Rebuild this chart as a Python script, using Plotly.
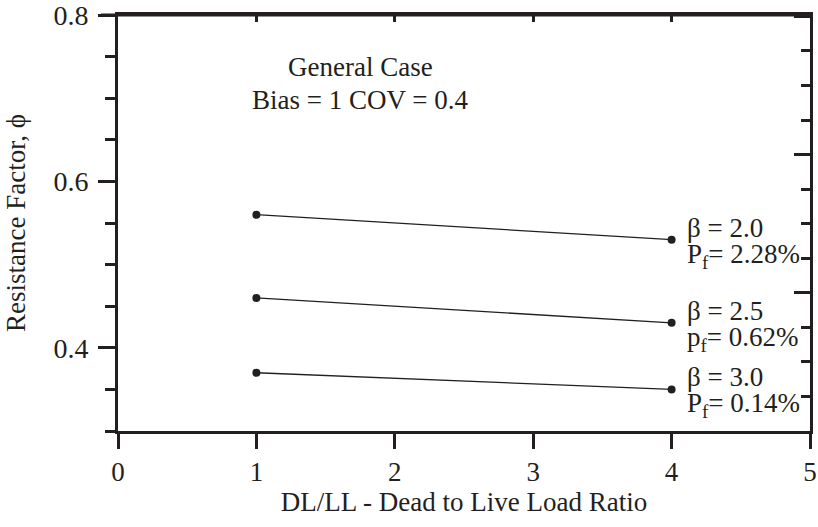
import plotly.graph_objects as go

x_ratio = [1, 4]
phi_b20 = [0.56, 0.53]
phi_b25 = [0.46, 0.43]
phi_b30 = [0.37, 0.35]
series = [
    ("β = 2.0", "P<sub>f</sub>= 2.28%", phi_b20),
    ("β = 2.5", "p<sub>f</sub>= 0.62%", phi_b25),
    ("β = 3.0", "P<sub>f</sub>= 0.14%", phi_b30),
]
x_ticks = [0, 1, 2, 3, 4, 5]
y_ticks = [0.4, 0.6, 0.8]
y_tick_labels = ["0.4", "0.6", "0.8"]
title_lines = ["General Case", "Bias = 1 COV = 0.4"]

FONT = "Liberation Serif"
INK = "#231f20"
FS = 27

fig = go.Figure()
for name, pf, vals in series:
    fig.add_trace(go.Scatter(
        x=x_ratio, y=vals, mode="lines+markers",
        line=dict(color=INK, width=1.3),
        marker=dict(color=INK, size=8),
        showlegend=False, name=name,
    ))
    fig.add_annotation(
        x=x_ratio[-1], y=vals[-1], xref="x", yref="y",
        text=name, showarrow=False,
        xanchor="left", yanchor="middle", xshift=13, yshift=12,
        align="left", font=dict(family=FONT, size=FS, color=INK),
    )
    fig.add_annotation(
        x=x_ratio[-1], y=vals[-1], xref="x", yref="y",
        text=pf, showarrow=False,
        xanchor="left", yanchor="middle", xshift=13, yshift=-16,
        align="left", font=dict(family=FONT, size=FS, color=INK),
    )

for i, line in enumerate(title_lines):
    fig.add_annotation(
        x=1.75, y=0.8, xref="x", yref="y",
        text=line, showarrow=False,
        xanchor="center", yanchor="middle", align="center",
        yshift=-52 - 33 * i,
        font=dict(family=FONT, size=FS, color=INK),
    )

# frame: top border and the top-left major tick
fig.add_shape(type="line", xref="paper", yref="paper",
              x0=0, x1=1, y0=1, y1=1,
              line=dict(color=INK, width=3), layer="above")
fig.add_shape(type="line", xref="paper", yref="paper",
              xsizemode="pixel", xanchor=0, x0=-17, x1=0, y0=1, y1=1,
              line=dict(color=INK, width=3), layer="above")

# dummy traces to activate the mirror axes
fig.add_trace(go.Scatter(x=[None], y=[None], xaxis="x2", yaxis="y", showlegend=False, hoverinfo="skip"))
fig.add_trace(go.Scatter(x=[None], y=[None], xaxis="x", yaxis="y2", showlegend=False, hoverinfo="skip"))

fig.update_layout(
    width=818, height=527,
    margin=dict(l=118, r=8, t=15, b=96),
    paper_bgcolor="white", plot_bgcolor="white",
    font=dict(family=FONT, size=FS, color=INK),
    xaxis=dict(
        range=[0, 5], tickvals=x_ticks, ticktext=[str(v) for v in x_ticks],
        ticks="outside", ticklen=15, tickwidth=3, tickcolor=INK,
        showline=True, linewidth=3, linecolor=INK,
        showgrid=False, zeroline=False, automargin=False,
        ticklabelstandoff=0,
        title=dict(text="DL/LL - Dead to Live Load Ratio", standoff=5,
                   font=dict(family=FONT, size=FS, color=INK)),
        tickfont=dict(family=FONT, size=FS, color=INK),
    ),
    xaxis2=dict(
        range=[0, 5], overlaying="x", side="top", tickvals=x_ticks,
        showticklabels=False, ticks="inside", ticklen=7, tickwidth=3, tickcolor=INK,
        showline=True, linewidth=3, linecolor=INK,
        showgrid=False, zeroline=False,
    ),
    yaxis=dict(
        range=[0.3, 0.8], tickvals=y_ticks, ticktext=y_tick_labels,
        ticks="outside", ticklen=17, tickwidth=3, tickcolor=INK,
        minor=dict(tickvals=[0.3, 0.35, 0.45, 0.5, 0.55, 0.65, 0.7, 0.75],
                   ticks="outside", ticklen=10, tickwidth=3, tickcolor=INK),
        showline=True, linewidth=3, linecolor=INK,
        showgrid=False, zeroline=False, automargin=False,
        ticklabelstandoff=4, ticklabeloverflow="allow",
        title=dict(text="Resistance Factor, ϕ", standoff=20,
                   font=dict(family=FONT, size=FS, color=INK)),
        tickfont=dict(family=FONT, size=FS + 1, color=INK),
    ),
    yaxis2=dict(
        range=[0, 3.01], overlaying="y", side="right",
        tickvals=[0, 1, 2, 3], showticklabels=False,
        ticks="inside", ticklen=16, tickwidth=3, tickcolor=INK,
        minor=dict(dtick=0.25, tick0=0, ticks="inside", ticklen=9, tickwidth=3, tickcolor=INK),
        showline=True, linewidth=3, linecolor=INK,
        showgrid=False, zeroline=False,
    ),
)

fig.write_html("out.html")
